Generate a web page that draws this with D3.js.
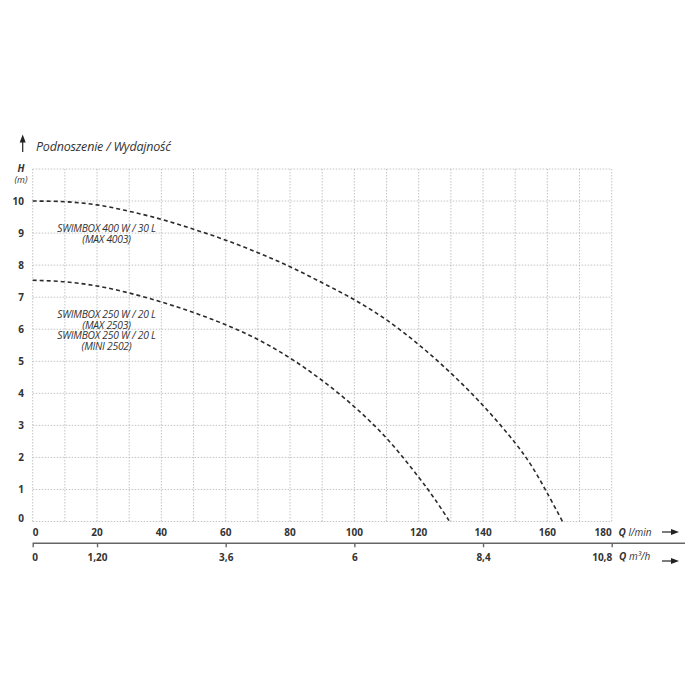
<!DOCTYPE html>
<html>
<head>
<meta charset="utf-8">
<script src="https://cdn.jsdelivr.net/npm/d3@7"></script>
<style>
  html, body { margin: 0; padding: 0; background: #fff; }
  svg { display: block; }
  text { font-family: "Open Sans", "DejaVu Sans", sans-serif; fill: #333; }
</style>
</head>
<body>
<svg id="chart" width="700" height="700"></svg>
<script>
// ---- data ----
const titleText = "Podnoszenie / Wydajność";
const qFlowTicks = [0, 20, 40, 60, 80, 100, 120, 140, 160, 180];          // l/min
const qM3Ticks = [0, 1.2, 3.6, 6, 8.4, 10.8];                              // m3/h
const qM3Labels = ["0", "1,20", "3,6", "6", "8,4", "10,8"];
const hTicks = [0, 1, 2, 3, 4, 5, 6, 7, 8, 9, 10];
const gridQ = d3.range(0, 181, 10);
const gridH = d3.range(0, 12, 1);

const q400 = [0, 10, 20, 30, 40, 50, 60, 70, 80, 90, 100, 110, 120, 130, 140, 150, 155, 160, 164.7];
const h400 = [10, 9.98, 9.88, 9.68, 9.43, 9.12, 8.78, 8.39, 7.95, 7.45, 6.92, 6.29, 5.52, 4.63, 3.62, 2.45, 1.75, 0.88, 0];
const q250 = [0, 10, 20, 30, 40, 50, 60, 70, 80, 90, 100, 110, 120, 125, 129.6];
const h250 = [7.53, 7.48, 7.35, 7.13, 6.85, 6.52, 6.14, 5.68, 5.1, 4.4, 3.58, 2.6, 1.38, 0.7, 0];

const label400 = ["SWIMBOX 400 W / 30 L", "(MAX 4003)"];
const label250 = ["SWIMBOX 250 W / 20 L", "(MAX 2503)", "SWIMBOX 250 W / 20 L", "(MINI 2502)"];

// ---- scales ----
const svg = d3.select("#chart");
const x = d3.scaleLinear().domain([0, 180]).range([32.7, 611.7]);
const xm = d3.scaleLinear().domain([0, 10.8]).range([32.7, 611.7]);
const y = d3.scaleLinear().domain([0, 11]).range([521.5, 169]);

// ---- grid ----
const grid = svg.append("g").attr("stroke", "#bdbdbd").attr("stroke-width", 0.9)
  .attr("stroke-dasharray", "1.5,1.5");
grid.selectAll("line.v").data(gridQ).join("line").attr("class", "v")
  .attr("x1", d => x(d)).attr("x2", d => x(d)).attr("y1", y(0)).attr("y2", y(11));
grid.selectAll("line.h").data(gridH).join("line").attr("class", "h")
  .attr("x1", x(0)).attr("x2", x(180)).attr("y1", d => y(d)).attr("y2", d => y(d));

// ---- curves ----
const line = d3.line().x(d => x(d[0])).y(d => y(d[1])).curve(d3.curveCatmullRom.alpha(0.5));
[[q400, h400], [q250, h250]].forEach(([qs, hs]) => {
  svg.append("path").datum(qs.map((q, i) => [q, hs[i]]))
    .attr("d", line).attr("fill", "none").attr("stroke", "#2b2b2b")
    .attr("stroke-width", 1.6).attr("stroke-dasharray", "4,3");
});

// ---- curve labels ----
const lab = svg.append("g").attr("font-style", "italic").attr("font-size", 10.3)
  .attr("text-anchor", "middle").attr("letter-spacing", -0.25);
label400.forEach((t, i) => lab.append("text").attr("x", 106.5).attr("y", 232 + i * 10.7).text(t));
label250.forEach((t, i) => lab.append("text").attr("x", 106.5).attr("y", 318 + i * 10.5).text(t));

// ---- y axis labels ----
svg.append("g").selectAll("text").data(hTicks).join("text")
  .attr("x", 24).attr("y", d => y(d) + 3.5 - (d === 0 ? 3 : 0))
  .attr("text-anchor", "end").attr("font-weight", "bold").attr("font-size", 10)
  .text(d => d);
svg.append("text").attr("x", 21).attr("y", 171.5).attr("text-anchor", "middle")
  .attr("font-weight", "bold").attr("font-style", "italic").attr("font-size", 10).text("H");
svg.append("text").attr("x", 21).attr("y", 182.5).attr("text-anchor", "middle")
  .attr("font-style", "italic").attr("font-size", 9).text("(m)");

// ---- title with up arrow ----
svg.append("line").attr("x1", 22.7).attr("x2", 22.7).attr("y1", 141).attr("y2", 152)
  .attr("stroke", "#222").attr("stroke-width", 1.2);
svg.append("path").attr("d", "M22.7,134.5 L19.7,142.5 L25.7,142.5 Z").attr("fill", "#222");
svg.append("text").attr("x", 36).attr("y", 151).attr("font-style", "italic")
  .attr("font-size", 12.5).attr("letter-spacing", -0.2).text(titleText);

// ---- top x labels (l/min) ----
svg.append("g").selectAll("text").data(qFlowTicks).join("text")
  .attr("x", d => x(d)).attr("y", 535.5)
  .attr("text-anchor", (d, i) => i === 0 ? "start" : (i === qFlowTicks.length - 1 ? "end" : "middle"))
  .attr("font-weight", "bold").attr("font-size", 10).text(d => d);

const unit1 = svg.append("text").attr("x", 618.5).attr("y", 535.5).attr("font-size", 10);
unit1.append("tspan").attr("font-weight", "bold").attr("font-style", "italic").text("Q ");
unit1.append("tspan").attr("font-style", "italic").text("l/min");

// ---- second axis (m3/h) ----
svg.append("line").attr("x1", x(0)).attr("x2", 685).attr("y1", 543.3).attr("y2", 543.3)
  .attr("stroke", "#666").attr("stroke-width", 1.4);
const ax = svg.append("g").attr("transform", "translate(0,543.3)")
  .call(d3.axisBottom(xm).tickValues(qM3Ticks).tickFormat((d, i) => qM3Labels[i])
    .tickSize(4).tickPadding(7));
ax.select(".domain").remove();
ax.selectAll(".tick line").attr("stroke", "#666").attr("stroke-width", 1.4);
ax.selectAll(".tick text").attr("font-family", "'Open Sans', sans-serif")
  .attr("font-weight", "bold").attr("font-size", 10).attr("fill", "#333")
  .attr("text-anchor", (d, i) => i === 0 ? "start" : (i === qM3Ticks.length - 1 ? "end" : "middle"))
  .attr("dx", (d, i) => i === 0 ? -1 : 0);

const unit2 = svg.append("text").attr("x", 619).attr("y", 560).attr("font-size", 10);
unit2.append("tspan").attr("font-weight", "bold").attr("font-style", "italic").text("Q ");
unit2.append("tspan").attr("font-style", "italic").text("m³/h");

// ---- right arrows ----
[532, 561].forEach(yy => {
  svg.append("line").attr("x1", 662).attr("x2", 673).attr("y1", yy).attr("y2", yy)
    .attr("stroke", "#222").attr("stroke-width", 1.2);
  svg.append("path").attr("d", `M679,${yy} L671,${yy - 3} L671,${yy + 3} Z`).attr("fill", "#222");
});
</script>
</body>
</html>
